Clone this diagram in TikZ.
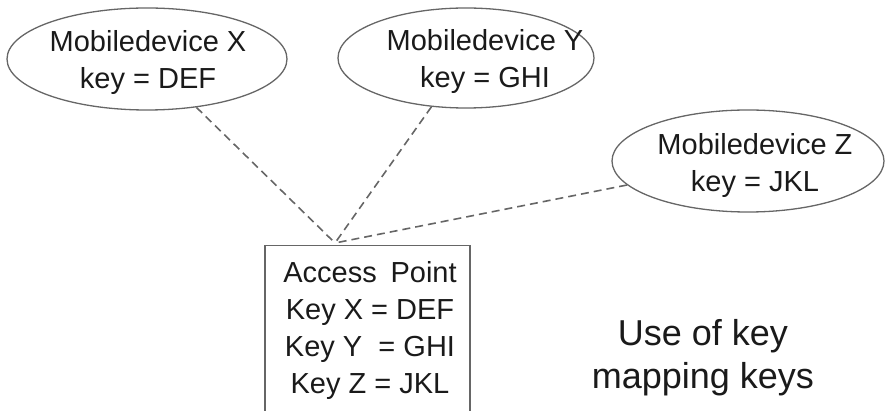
\documentclass[tikz,border=0pt]{standalone}
\usepackage{fontspec}
\setmainfont{Liberation Sans}
\usetikzlibrary{shapes.geometric,calc}
\definecolor{txt}{HTML}{1A1A1A}
\definecolor{ln}{HTML}{666666}
\begin{document}
\begin{tikzpicture}[x=1pt,y=-1pt,
  dev/.style={ellipse,draw=ln,line width=1.3pt,inner sep=0pt},
  lbl/.style={text=txt,font=\fontsize{29}{37}\selectfont,align=center,inner sep=0pt},
  link/.style={draw=ln,line width=1.6pt,dash pattern=on 8pt off 5pt}]
\useasboundingbox (0,0) rectangle (887,411);
\clip (0,0) rectangle (887,411);
% mobile devices
\node[dev,minimum width=280pt,minimum height=102pt] (ex) at (147,59) {};
\node[dev,minimum width=256pt,minimum height=100pt] (ey) at (466,58) {};
\node[dev,minimum width=272pt,minimum height=102pt] (ez) at (748,161) {};
\node[lbl] (tx) at (148,63) {Mobiledevice X\\key = DEF};
\node[lbl] (ty) at (485,62) {Mobiledevice Y\\key = GHI};
\node[lbl] (tz) at (755,166) {Mobiledevice Z\\key = JKL};
% access point
\node[draw=ln,line width=1.5pt,minimum width=205pt,minimum height=190pt,
      anchor=north west,inner sep=0pt] (ap) at (264,245) {};
\coordinate (apt) at ($(ap.north west)+(71,-2)$);
\node[lbl] (aptext) at (370,331) {Access\hspace{0.2em} Point\\Key X = DEF\\Key Y\hspace{0.28em} = GHI\\Key Z = JKL};
% links
\draw[link] (ex) -- (apt);
\draw[link] (ey) -- (apt);
\draw[link] (ez) -- (apt);
% caption
\node[text=txt,font=\fontsize{36}{43}\selectfont,align=center,inner sep=0pt] (cap) at (703,358) {Use of key\\mapping keys};
\end{tikzpicture}
\end{document}
